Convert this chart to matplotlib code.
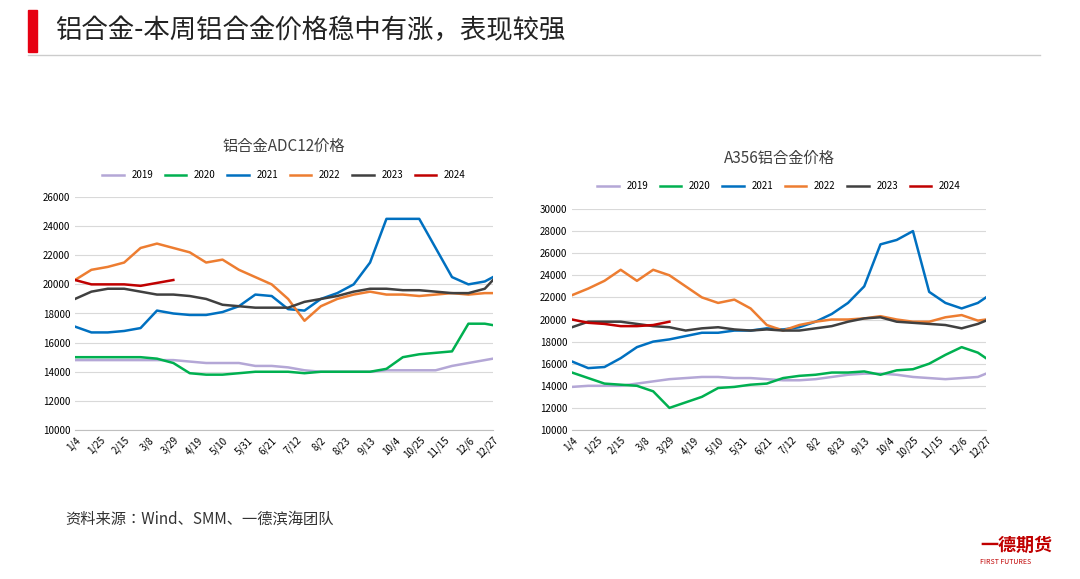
import numpy as np
import matplotlib.pyplot as plt
from matplotlib.patches import Rectangle
from matplotlib.lines import Line2D

plt.rcParams['font.family'] = ['Noto Sans CJK SC', 'Noto Sans CJK JP', 'Noto Sans CJK TC', 'DejaVu Sans']

# sample days (offset from 1/4), every 14 days
days = np.array([0, 14, 28, 42, 56, 70, 84, 98, 112, 126, 140, 154, 168, 182,
                 196, 210, 224, 238, 252, 266, 280, 294, 308, 322, 336, 350, 357])
days_2024 = days[:7]
tick_labels = ['1/4', '1/25', '2/15', '3/8', '3/29', '4/19', '5/10', '5/31', '6/21',
               '7/12', '8/2', '8/23', '9/13', '10/4', '10/25', '11/15', '12/6', '12/27']

years = ['2019', '2020', '2021', '2022', '2023', '2024']
colors = ['#b4a7d6', '#00b050', '#0070c0', '#ed7d31', '#404040', '#c00000']

# ADC12
adc_2019 = [14800, 14800, 14800, 14800, 14800, 14800, 14800, 14700, 14600, 14600, 14600, 14400, 14400, 14300,
            14100, 14000, 14000, 14000, 14000, 14100, 14100, 14100, 14100, 14400, 14600, 14800, 14900]
adc_2020 = [15000, 15000, 15000, 15000, 15000, 14900, 14600, 13900, 13800, 13800, 13900, 14000, 14000, 14000,
            13900, 14000, 14000, 14000, 14000, 14200, 15000, 15200, 15300, 15400, 17300, 17300, 17200]
adc_2021 = [17100, 16700, 16700, 16800, 17000, 18200, 18000, 17900, 17900, 18100, 18500, 19300, 19200, 18300,
            18200, 19000, 19400, 20000, 21500, 24500, 24500, 24500, 22500, 20500, 20000, 20200, 20500]
adc_2022 = [20300, 21000, 21200, 21500, 22500, 22800, 22500, 22200, 21500, 21700, 21000, 20500, 20000, 19000,
            17500, 18500, 19000, 19300, 19500, 19300, 19300, 19200, 19300, 19400, 19300, 19400, 19400]
adc_2023 = [19000, 19500, 19700, 19700, 19500, 19300, 19300, 19200, 19000, 18600, 18500, 18400, 18400, 18400,
            18800, 19000, 19200, 19500, 19700, 19700, 19600, 19600, 19500, 19400, 19400, 19700, 20300]
adc_2024 = [20300, 20000, 20000, 20000, 19900, 20100, 20300]

# A356
a356_2019 = [13900, 14000, 14000, 14000, 14200, 14400, 14600, 14700, 14800, 14800, 14700, 14700, 14600, 14500,
             14500, 14600, 14800, 15000, 15100, 15100, 15000, 14800, 14700, 14600, 14700, 14800, 15100]
a356_2020 = [15200, 14700, 14200, 14100, 14000, 13500, 12000, 12500, 13000, 13800, 13900, 14100, 14200, 14700,
             14900, 15000, 15200, 15200, 15300, 15000, 15400, 15500, 16000, 16800, 17500, 17000, 16500]
a356_2021 = [16200, 15600, 15700, 16500, 17500, 18000, 18200, 18500, 18800, 18800, 19000, 19000, 19200, 19100,
             19300, 19800, 20500, 21500, 23000, 26800, 27200, 28000, 22500, 21500, 21000, 21500, 22000]
a356_2022 = [22200, 22800, 23500, 24500, 23500, 24500, 24000, 23000, 22000, 21500, 21800, 21000, 19500, 19000,
             19500, 19800, 20000, 20000, 20100, 20300, 20000, 19800, 19800, 20200, 20400, 19900, 20000]
a356_2023 = [19300, 19800, 19800, 19800, 19600, 19400, 19300, 19000, 19200, 19300, 19100, 19000, 19100, 19000,
             19000, 19200, 19400, 19800, 20100, 20200, 19800, 19700, 19600, 19500, 19200, 19600, 19900]
a356_2024 = [20000, 19700, 19600, 19400, 19400, 19500, 19800]

W, H = 1080, 579
fig = plt.figure(figsize=(W / 100, H / 100), dpi=100)

# header
fig.patches.append(Rectangle((28 / W, 1 - 52 / H), 9 / W, 42 / H, transform=fig.transFigure, color='#e60012'))
fig.text(55 / W, 1 - 30 / H, '铝合金-本周铝合金价格稳中有涨，表现较强', fontsize=19, va='center', color='#222222')
fig.add_artist(Line2D([28 / W, 1040 / W], [1 - 55 / H, 1 - 55 / H], color='#cccccc', lw=1))
fig.text(65 / W, 1 - 519 / H, '资料来源：Wind、SMM、一德滨海团队', fontsize=11, va='center', color='#333333')
fig.text(980 / W, 1 - 545 / H, '一德期货', fontsize=13, va='center', color='#c00000', fontweight='bold')
fig.text(980 / W, 1 - 562 / H, 'FIRST FUTURES', fontsize=5, va='center', color='#c00000')


def draw(rect, title, series, s2024, ymin, ymax, step, title_y, leg_y):
    ax = fig.add_axes(rect)
    for yr, vals, c in zip(years[:5], series, colors[:5]):
        ax.plot(days, vals, color=c, lw=1.8, label=yr)
    ax.plot(days_2024, s2024, color=colors[5], lw=1.8, label='2024')
    ax.set_ylim(ymin, ymax)
    ax.set_yticks(np.arange(ymin, ymax + 1, step))
    ax.set_xlim(0, 357)
    ax.set_xticks(np.arange(0, 358, 21))
    ax.set_xticklabels(tick_labels, rotation=45, fontsize=7, ha='right', rotation_mode='anchor')
    ax.tick_params(axis='y', labelsize=7, length=0)
    ax.tick_params(axis='x', length=0)
    ax.grid(axis='y', color='#d9d9d9', lw=0.8)
    for s in ['top', 'right', 'left']:
        ax.spines[s].set_visible(False)
    ax.spines['bottom'].set_color('#bfbfbf')
    cx = rect[0] + rect[2] / 2
    fig.text(cx, 1 - title_y / H, title, fontsize=11, ha='center', va='center', color='#404040')
    fig.legend(*ax.get_legend_handles_labels(), loc='center', bbox_to_anchor=(cx, 1 - leg_y / H),
               ncol=6, frameon=False, fontsize=7, handlelength=2.2, columnspacing=1.2)
    return ax


draw([75 / W, 1 - 430 / H, 418 / W, 233 / H], '铝合金ADC12价格',
     [adc_2019, adc_2020, adc_2021, adc_2022, adc_2023], adc_2024, 10000, 26000, 2000, 146, 175)
draw([572 / W, 1 - 430 / H, 414 / W, 221 / H], 'A356铝合金价格',
     [a356_2019, a356_2020, a356_2021, a356_2022, a356_2023], a356_2024, 10000, 30000, 2000, 158, 186)

fig.savefig('out.png', dpi=100)
